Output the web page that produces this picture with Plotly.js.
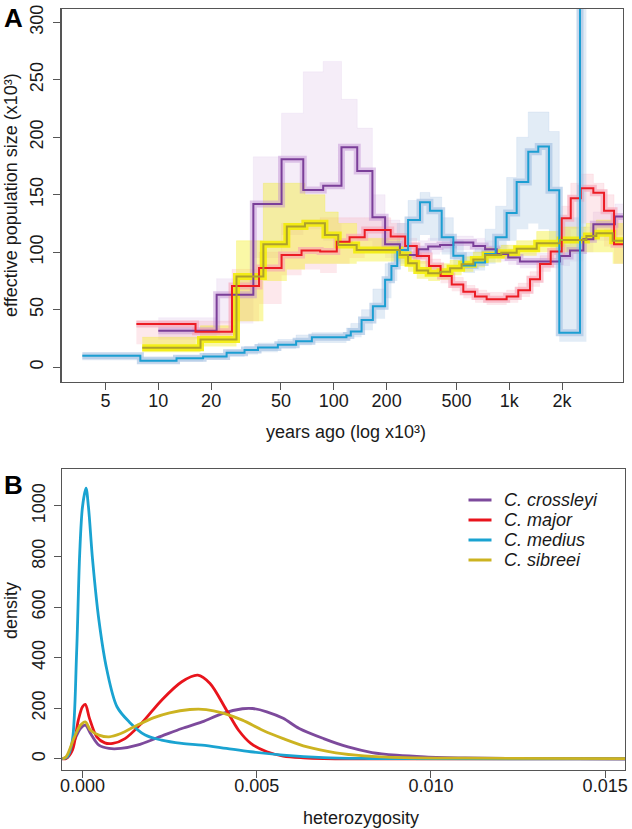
<!DOCTYPE html>
<html><head><meta charset="utf-8">
<script src="https://cdn.plot.ly/plotly-3.0.1.min.js"></script>
<style>html,body{margin:0;padding:0;background:#fff}#chart{width:632px;height:829px}</style>
</head><body><div id="chart"></div>
<script>
// ---------- Panel A: PSMC step histories (years ago x10^3, Ne x10^3) ----------
const crossleyiYears = [10, 21.5, 34.8, 50.4, 67, 87, 110.6, 136, 166, 196, 238, 303, 345, 403, 480, 624, 728, 848, 986, 1150, 1945, 2219, 2642, 3013, 4000];
const crossleyiNe    = [31.6, 62.9, 142, 180.9, 154.2, 157.9, 191.3, 170.7, 130.4, 107, 97.6, 102.6, 104.9, 106.3, 108.4, 105.5, 102.6, 98.5, 95.3, 91.8, 96.8, 101.4, 111.3, 124.3, 131];
const crossleyiLo    = [24, 38, 95, 115, 120, 110, 125, 110, 100, 95, 92, 96, 98, 100, 102, 99, 96, 92, 89, 86, 88, 92, 100, 110, 115];
const crossleyiHi    = [43, 77, 183, 221, 257, 266, 233, 208, 150, 128, 108, 110, 112, 112, 114, 112, 110, 106, 103, 99, 106, 112, 122, 135, 142];

const majorYears = [7.5, 16.3, 26.3, 37.5, 50.4, 65.5, 83.6, 104, 123, 150, 211, 255, 297, 349, 406, 470, 547, 638, 743, 966, 1125, 1312, 1497, 1722, 1990, 2240, 2553, 3013, 3467, 3953];
const majorNe    = [37.6, 30.7, 70.6, 86.3, 97.6, 101.4, 100.5, 109.2, 113, 119.4, 113.6, 105.5, 96.8, 88, 79.4, 72, 65.5, 61.4, 59.1, 61.4, 67, 76.5, 89.8, 100.5, 129.6, 147, 155.7, 151.8, 136, 107];
const majorLo    = [20, 25, 40, 55, 80, 85, 82, 90, 95, 100, 100, 99, 90, 82, 73, 66, 60, 56, 54, 56, 61, 70, 83, 94, 110, 120, 125, 120, 105, 90];
const majorHi    = [40, 40, 85, 100, 125, 128, 130, 130, 130, 130, 125, 112, 103, 94, 86, 78, 71, 67, 65, 67, 73, 83, 97, 108, 140, 160, 168, 160, 150, 130];

const mediusYears = [3.69, 7.9, 12.7, 18, 24.5, 31, 37, 48, 61, 75, 118, 125, 144, 167, 196, 213, 230, 265, 310, 353, 412, 480, 547, 638, 728, 836, 966, 1102, 1283, 1463, 1683, 1927, 2529, 2750];
const mediusNe    = [10, 5.6, 7.8, 9.3, 12.5, 15, 17, 19.5, 22.5, 26, 27.5, 31, 41, 53, 76, 88, 102, 128, 143.5, 136, 113, 97, 88.5, 91, 98.5, 113, 134, 161, 187.5, 192, 154, 30, 600, 600];
const mediusLo    = [6, 4, 5, 7, 9, 11, 13, 16, 19, 21, 23, 26, 32, 42, 60, 75, 90, 110, 115, 110, 98, 88, 82, 84, 90, 100, 110, 120, 125, 120, 105, 22, 22, 600];
const mediusHi    = [11, 9, 10, 12, 15, 18, 21, 24, 28, 30, 34, 38, 50, 68, 90, 105, 125, 145, 152, 148, 130, 110, 100, 103, 120, 140, 165, 200, 222, 222, 205, 130, 600, 600];

const sibreeiYears = [8.1, 17.4, 27.9, 39.7, 54, 68.5, 89, 106, 135, 238, 265, 297, 345, 403, 460, 535, 624, 728, 900, 1102, 1433, 1945, 2750, 3135, 3885];
const sibreeiNe    = [16.8, 24, 78.8, 107, 122.3, 125.2, 115, 106.3, 102, 97.6, 90.4, 84, 81.7, 83, 86, 89.6, 93.7, 97.6, 99.5, 103, 107.8, 110.7, 114, 116.5, 110];
const sibreeiLo    = [13, 18, 40, 75, 85, 90, 90, 90, 92, 88, 83, 77, 75, 76, 80, 83, 87, 91, 94, 97, 100, 100, 100, 100, 90];
const sibreeiHi    = [26, 36, 110, 160, 160, 150, 135, 125, 112, 105, 98, 92, 89, 90, 93, 96, 100, 104, 106, 110, 118, 122, 125, 128, 125];

const seriesEndYears = 6000;

// ---------- Panel B: heterozygosity densities ----------
const hetX_crossleyi = [-0.00058, -0.00047, -0.00023, -0.00006, 0.00008, 0.00023, 0.00047, 0.00076, 0.0011, 0.00157, 0.00227, 0.00285, 0.00343, 0.00401, 0.00459, 0.00488, 0.00529, 0.00576, 0.00622, 0.00692, 0.00762, 0.00831, 0.00901, 0.00983, 0.01099, 0.01273, 0.0156];
const dens_crossleyi = [0, 5, 74, 120, 133, 100, 54, 41, 41, 54, 90, 120, 146, 179, 198, 199, 186, 160, 120, 80, 47, 25, 14.5, 8, 4, 1.5, 0];

const hetX_major = [-0.00058, -0.00047, -0.00029, -0.00012, 0, 0.00008, 0.0002, 0.00041, 0.00064, 0.00087, 0.00122, 0.00169, 0.00227, 0.00285, 0.00331, 0.00366, 0.00413, 0.00448, 0.00483, 0.00529, 0.00576, 0.00634, 0.00692, 0.00808, 0.0156];
const dens_major = [0, 1, 34, 153, 206, 215, 160, 87, 63, 61, 80, 140, 232, 305, 331, 298, 193, 113, 61, 28, 11, 4, 1, 0, 0];

const hetX_medius = [-0.00058, -0.00043, -0.00029, -0.00017, -0.00008, 0, 0.0001, 0.00017, 0.00029, 0.00047, 0.0007, 0.00099, 0.00134, 0.0018, 0.00227, 0.00285, 0.00343, 0.00413, 0.00483, 0.00576, 0.00692, 0.00808, 0.00924, 0.0156];
const dens_medius = [0, 8, 74, 417, 813, 997, 1070, 997, 786, 549, 351, 206, 146, 94, 74, 61, 54, 41, 28, 15, 5, 1.5, 0.5, 0];

const hetX_sibreei = [-0.00058, -0.00047, -0.00023, -0.00006, 0.00008, 0.00023, 0.00047, 0.00076, 0.0011, 0.00157, 0.00203, 0.0025, 0.00308, 0.00355, 0.00401, 0.00459, 0.00517, 0.00576, 0.00645, 0.00727, 0.00808, 0.00924, 0.01099, 0.0156];
const dens_sibreei = [0, 8, 87, 133, 146, 113, 94, 87, 100, 133, 162, 182, 195, 195, 182, 153, 113, 80, 47, 24, 12, 5, 2.6, 0.5];

const speciesNames = ['C. crossleyi', 'C. major', 'C. medius', 'C. sibreei'];
const xTickValsA = [5, 10, 20, 50, 100, 200, 500, 1000, 2000];
const xTickTextA = ['5', '10', '20', '50', '100', '200', '500', '1k', '2k'];
const yTickValsA = [0, 50, 100, 150, 200, 250, 300];
const xTickValsB = [0, 0.005, 0.010, 0.015];
const xTickTextB = ['0.000', '0.005', '0.010', '0.015'];
const yTickValsB = [0, 200, 400, 600, 800, 1000];

// ---------- styling ----------
const mainColA = ['#7B3F99', '#EC1C24', '#1C9ED2', '#ADA02C'];
const cloudCol = ['rgba(195,150,215,0.17)', 'rgba(245,150,170,0.22)', 'rgba(165,195,228,0.32)', 'rgba(243,236,20,0.38)'];
const haloCol  = ['rgba(190,140,210,0.45)', 'rgba(246,160,180,0.6)', 'rgba(160,190,225,0.6)', 'rgba(242,236,0,0.85)'];
const colB = ['#7D4A9C', '#E8141C', '#1AA3D1', '#CCB321'];
const FONT = 'Liberation Sans, Arial, Helvetica, sans-serif';
const W = 632, H = 829;
const px = x => x / W, py = y => 1 - y / H;

function stepX(xs) { return xs.concat([seriesEndYears]); }
function stepY(ys) { return ys.concat([ys[ys.length - 1]]); }

const A = [
  [crossleyiYears, crossleyiNe, crossleyiLo, crossleyiHi],
  [majorYears, majorNe, majorLo, majorHi],
  [mediusYears, mediusNe, mediusLo, mediusHi],
  [sibreeiYears, sibreeiNe, sibreeiLo, sibreeiHi]
];

const traces = [];
A.forEach((s, i) => {
  traces.push({x: stepX(s[0]), y: stepY(s[2]), type: 'scatter', mode: 'lines', line: {shape: 'hv', width: 0}, hoverinfo: 'skip', showlegend: false, xaxis: 'x', yaxis: 'y'});
  traces.push({x: stepX(s[0]), y: stepY(s[3]), type: 'scatter', mode: 'lines', line: {shape: 'hv', width: 0.6, color: cloudCol[i]}, fill: 'tonexty', fillcolor: cloudCol[i], hoverinfo: 'skip', showlegend: false, xaxis: 'x', yaxis: 'y'});
});
A.forEach((s, i) => {
  traces.push({x: stepX(s[0]), y: stepY(s[1]), type: 'scatter', mode: 'lines', line: {shape: 'hv', width: 7, color: haloCol[i]}, hoverinfo: 'skip', showlegend: false, xaxis: 'x', yaxis: 'y'});
});
A.forEach((s, i) => {
  traces.push({x: stepX(s[0]), y: stepY(s[1]), type: 'scatter', mode: 'lines', name: speciesNames[i], line: {shape: 'hv', width: 2, color: mainColA[i]}, showlegend: false, xaxis: 'x', yaxis: 'y'});
});

const B = [[hetX_crossleyi, dens_crossleyi], [hetX_major, dens_major], [hetX_medius, dens_medius], [hetX_sibreei, dens_sibreei]];
B.forEach((s, i) => {
  traces.push({x: s[0], y: s[1], type: 'scatter', mode: 'lines', name: speciesNames[i], line: {shape: 'spline', smoothing: 0.9, width: 2.8, color: colB[i]}, showlegend: false, xaxis: 'x2', yaxis: 'y2'});
});

const axBase = {
  showgrid: false, zeroline: false, showline: true, mirror: true, linecolor: '#555', linewidth: 1.2,
  ticks: 'outside', ticklen: 7, tickwidth: 1, tickcolor: '#555',
  tickfont: {family: FONT, size: 18, color: '#1a1a1a'}, fixedrange: true
};

const annFont = {family: FONT, size: 18, color: '#1a1a1a'};
const annotations = [
  {text: 'A', x: px(2), y: py(1), xanchor: 'left', yanchor: 'top', font: {family: FONT, size: 26, color: '#000', weight: 'bold'}},
  {text: 'B', x: px(2), y: py(468), xanchor: 'left', yanchor: 'top', font: {family: FONT, size: 26, color: '#000', weight: 'bold'}},
  {text: 'years ago (log x10³)', x: px(346), y: py(432), xanchor: 'center', yanchor: 'middle', font: annFont},
  {text: 'effective population size (x10³)', x: px(11), y: py(195), xanchor: 'center', yanchor: 'middle', textangle: -90, font: annFont},
  {text: 'heterozygosity', x: px(361), y: py(818), xanchor: 'center', yanchor: 'middle', font: annFont},
  {text: 'density', x: px(11), y: py(611), xanchor: 'center', yanchor: 'middle', textangle: -90, font: annFont}
].map(a => Object.assign({xref: 'paper', yref: 'paper', showarrow: false}, a));

const shapes = [];
const legendRows = [500, 520, 540, 560];
speciesNames.forEach((n, i) => {
  shapes.push({type: 'line', xref: 'paper', yref: 'paper', x0: px(468.5), x1: px(491.5), y0: py(legendRows[i]), y1: py(legendRows[i]), line: {color: colB[i], width: 3}});
  annotations.push({xref: 'paper', yref: 'paper', showarrow: false, text: '<i>' + n + '</i>', x: px(502), y: py(legendRows[i]), xanchor: 'left', yanchor: 'middle', font: annFont});
});

const layout = {
  width: W, height: H, margin: {l: 0, r: 0, t: 0, b: 0},
  paper_bgcolor: '#fff', plot_bgcolor: '#fff', showlegend: false,
  xaxis: Object.assign({}, axBase, {type: 'log', domain: [px(61.5), px(623)], range: [0.4484, 3.648], tickvals: xTickValsA, ticktext: xTickTextA, anchor: 'y', ticklabelstandoff: -4}),
  yaxis: Object.assign({}, axBase, {domain: [py(381.5), py(9)], range: [-12.5, 311.6], tickvals: yTickValsA, tickangle: -90, anchor: 'x', ticklabelstandoff: 3}),
  xaxis2: Object.assign({}, axBase, {domain: [px(62.3), px(625)], range: [-0.00058, 0.01557], tickvals: xTickValsB, ticktext: xTickTextB, anchor: 'y2', ticklabelstandoff: -7}),
  yaxis2: Object.assign({}, axBase, {domain: [py(769.5), py(469.3)], range: [-42.2, 1145], tickvals: yTickValsB, tickangle: -90, anchor: 'x2', ticklabelstandoff: 2}),
  annotations: annotations, shapes: shapes
};

Plotly.newPlot('chart', traces, layout, {staticPlot: true, displayModeBar: false});
</script></body></html>
